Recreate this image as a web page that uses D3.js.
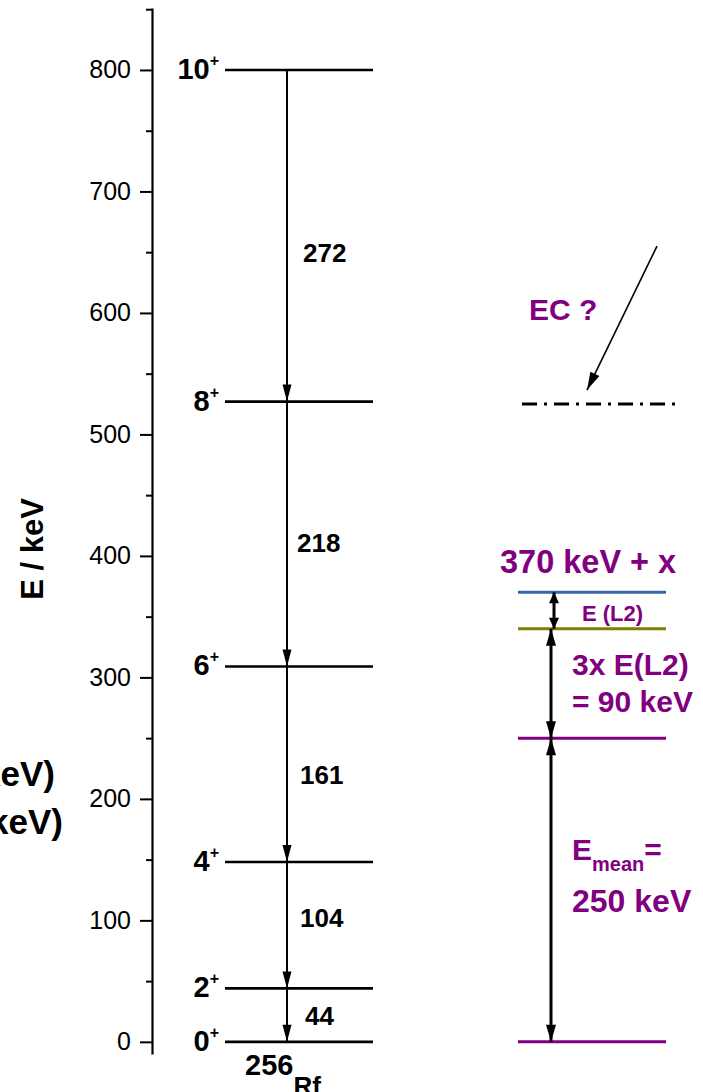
<!DOCTYPE html>
<html><head><meta charset="utf-8">
<script src="https://cdn.jsdelivr.net/npm/d3@7"></script>
<style>body{margin:0;background:#fff;} svg{display:block;}</style>
</head><body>
<script>
// ---- data ----
const levelEnergies = [0, 44, 148, 309, 527, 800];
const levelSpins = ["0", "2", "4", "6", "8", "10"];
const gammaEnergies = [44, 104, 161, 218, 272];
const gammaLabelAt = [21, 102, 220, 411, 649];
const rightLevelEnergies = [0, 250, 340, 370];
const rightLevelKinds = ["mean", "mean", "L2", "top"];
const ecLevelEnergy = 525;
const spanPairs = [[0, 250], [250, 340], [340, 370]];
const majorTicks = [0, 100, 200, 300, 400, 500, 600, 700, 800];
const minorTicks = [50, 150, 250, 350, 450, 550, 650, 750, 850];
const axisDomain = [-10, 851];

// ---- drawing ----
const W = 703, H = 1092;
const PURPLE = "#800080", OLIVE = "#7f7f00", BLUE = "#3566a6";
const kindColor = {mean: PURPLE, L2: OLIVE, top: BLUE};
const FONT = "'Liberation Sans', Arial, Helvetica, sans-serif";
const gammaLabelDx = [18, 13, 13, 10, 16];

const svg = d3.select("body").append("svg").attr("width", W).attr("height", H)
  .style("font-family", FONT);
const y = d3.scaleLinear().domain(axisDomain).range([1054, 8]);
const AX = 152;

// axis
const gAxis = svg.append("g").attr("transform", `translate(${AX},0)`)
  .call(d3.axisLeft(y).tickValues(majorTicks).tickSize(12).tickSizeOuter(0).tickPadding(9).tickFormat(d3.format("d")));
gAxis.select(".domain").attr("stroke", "#000").attr("stroke-width", 2.2);
gAxis.selectAll(".tick line").attr("stroke-width", 2);
gAxis.selectAll(".tick text").attr("font-size", 25).attr("font-family", FONT).attr("fill", "#000");
const gMinor = svg.append("g").attr("transform", `translate(${AX},0)`)
  .call(d3.axisLeft(y).tickValues(minorTicks).tickSize(6).tickSizeOuter(0).tickFormat(""));
gMinor.select(".domain").remove();
gMinor.selectAll(".tick line").attr("stroke-width", 2);

svg.append("text").attr("transform", `translate(43,549) rotate(-90)`)
  .attr("text-anchor", "middle").attr("font-size", 31).attr("font-weight", "bold").text("E / keV");

// arrowhead helper
function head(x, yTip, dir, len = 17, hw = 5) {
  const yb = yTip - dir * len;
  return `M${x},${yTip}L${x - hw},${yb}L${x + hw},${yb}Z`;
}

// levels
const LX1 = 225, LX2 = 373, GX = 287;
svg.append("g").selectAll("line").data(levelEnergies).join("line")
  .attr("x1", LX1).attr("x2", LX2).attr("y1", d => y(d)).attr("y2", d => y(d))
  .attr("stroke", "#000").attr("stroke-width", 2.6);

const lab = svg.append("g").selectAll("text").data(levelEnergies).join("text")
  .attr("x", 219).attr("y", d => y(d) + 9).attr("text-anchor", "end")
  .attr("font-size", 29).attr("font-weight", "bold");
lab.append("tspan").text((d, i) => levelSpins[i]);
lab.append("tspan").attr("font-size", 16).attr("dy", -13).text("+");

// cascade
svg.append("line").attr("x1", GX).attr("x2", GX)
  .attr("y1", y(d3.max(levelEnergies))).attr("y2", y(0))
  .attr("stroke", "#000").attr("stroke-width", 2);
svg.append("g").selectAll("path").data(levelEnergies.slice(0, -1)).join("path")
  .attr("d", d => head(GX, y(d), 1, 17, 4.5)).attr("fill", "#000");
svg.append("g").selectAll("text").data(gammaEnergies).join("text")
  .attr("x", (d, i) => GX + gammaLabelDx[i]).attr("y", (d, i) => y(gammaLabelAt[i]) + 9)
  .attr("font-size", 26).attr("font-weight", "bold").text(d => d);

// nucleus label
const nuc = svg.append("text").attr("x", 245).attr("y", 1075)
  .attr("font-size", 29).attr("font-weight", "bold");
nuc.append("tspan").text("256");
nuc.append("tspan").attr("font-size", 26).attr("dy", 20).text("Rf");

// cut-off text at left
svg.append("text").attr("x", 55).attr("y", 786).attr("text-anchor", "end")
  .attr("font-size", 35).attr("font-weight", "bold").text("(E(L1) ≈ 130 keV)");
svg.append("text").attr("x", 63).attr("y", 834).attr("text-anchor", "end")
  .attr("font-size", 35).attr("font-weight", "bold").text("(E(L2) ≈ 30 keV)");

// right-hand scheme
const RX1 = 518, RX2 = 666, DX = 551;
svg.append("g").selectAll("line").data(rightLevelEnergies).join("line")
  .attr("x1", RX1).attr("x2", RX2).attr("y1", d => y(d)).attr("y2", d => y(d))
  .attr("stroke", (d, i) => kindColor[rightLevelKinds[i]]).attr("stroke-width", 3);

svg.append("line").attr("x1", 522).attr("x2", 679)
  .attr("y1", y(ecLevelEnergy)).attr("y2", y(ecLevelEnergy))
  .attr("stroke", "#000").attr("stroke-width", 3).attr("stroke-dasharray", "15,7,3,7");

const spans = svg.append("g");
spanPairs.forEach(([a, b], i) => {
  const x = i === 2 ? 554 : DX;
  const len = i === 2 ? 11 : 17;
  spans.append("line").attr("x1", x).attr("x2", x).attr("y1", y(a)).attr("y2", y(b))
    .attr("stroke", "#000").attr("stroke-width", 3);
  spans.append("path").attr("d", head(x, y(a), 1, len, 5)).attr("fill", "#000");
  spans.append("path").attr("d", head(x, y(b), -1, len, 5)).attr("fill", "#000");
});

// EC arrow
const ecTipY = y(ecLevelEnergy) - 14, ecTipX = 587;
const ecStart = [657, y(655)];
svg.append("line").attr("x1", ecStart[0]).attr("y1", ecStart[1]).attr("x2", ecTipX).attr("y2", ecTipY)
  .attr("stroke", "#000").attr("stroke-width", 1.6);
{
  const ang = Math.atan2(ecTipY - ecStart[1], ecTipX - ecStart[0]);
  const L = 18, hw = 5;
  const bx = ecTipX - L * Math.cos(ang), by = ecTipY - L * Math.sin(ang);
  const px = -Math.sin(ang) * hw, py = Math.cos(ang) * hw;
  svg.append("path").attr("d", `M${ecTipX},${ecTipY}L${bx + px},${by + py}L${bx - px},${by - py}Z`).attr("fill", "#000");
}

// purple annotations
const ann = svg.append("g").attr("fill", PURPLE).attr("font-weight", "bold");
ann.append("text").attr("x", 529).attr("y", 320).attr("font-size", 30).text("EC ?");
ann.append("text").attr("x", 500).attr("y", y(370) - 19).attr("font-size", 32.5).text("370 keV + x");
ann.append("text").attr("x", 582).attr("y", y(340) - 8).attr("font-size", 22).text("E (L2)");
ann.append("text").attr("x", 572).attr("y", 675).attr("font-size", 30).text("3x E(L2)");
ann.append("text").attr("x", 572).attr("y", 712).attr("font-size", 30).text("= 90 keV");
const em = ann.append("text").attr("x", 572).attr("y", 860).attr("font-size", 30);
em.append("tspan").text("E");
em.append("tspan").attr("font-size", 20).attr("dy", 11).text("mean");
em.append("tspan").attr("dy", -11).text("=");
ann.append("text").attr("x", 572).attr("y", 912).attr("font-size", 32).text("250 keV");
</script>
</body></html>
